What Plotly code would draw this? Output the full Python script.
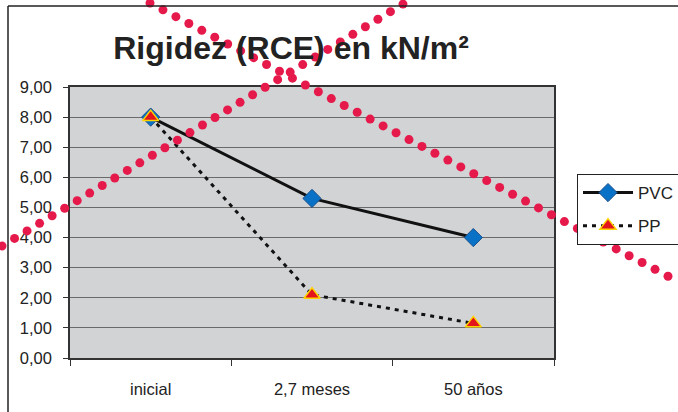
import numpy as np
import plotly.graph_objects as go

# ---- data ----
categories = ["inicial", "2,7 meses", "50 años"]
pvc_values = [8.0, 5.3, 4.0]
pp_values = [8.0, 2.1, 1.15]
series_names = ["PVC", "PP"]
title_text = "Rigidez (RCE) en kN/m²"

W, H = 678, 412
FONT = "Liberation Sans, Arial, Helvetica, sans-serif"

fig = go.Figure()

fig.add_trace(go.Scatter(
    x=categories, y=pvc_values, name=series_names[0], mode="lines+markers",
    line=dict(color="#111111", width=3),
    marker=dict(symbol="diamond", size=14, color="#0A72C6",
                line=dict(color="#1D4F8A", width=1)),
    legendgroup="a", xaxis="x", yaxis="y", cliponaxis=False,
))
fig.add_trace(go.Scatter(
    x=categories, y=pp_values, name=series_names[1], mode="lines+markers",
    line=dict(color="#111111", width=3, dash="4px,5px"),
    marker=dict(symbol="triangle-up", size=14, color="#E3141B",
                line=dict(color="#FFD400", width=1.5)),
    legendgroup="b", xaxis="x", yaxis="y", cliponaxis=False,
))

# ---- decorative red dotted cross (overlay in pixel space) ----
def dotted(start, step, n):
    k = np.arange(n)
    return start[0] + step[0] * k, start[1] + step[1] * k

ax_, ay_ = dotted((150, 3), (12.95, 6.83), 42)
bx_, by_ = dotted((2, 246), (12.53, -7.56), 34)
for xs, ys in ((ax_, ay_), (bx_, by_)):
    fig.add_trace(go.Scatter(
        x=xs, y=ys, mode="markers", showlegend=False, hoverinfo="skip",
        marker=dict(size=9, color="#E6194B"), xaxis="x2", yaxis="y2",
        cliponaxis=False,
    ))

xd = [70 / W, 554 / W]
yd = [1 - 358 / H, 1 - 87 / H]

fig.update_layout(
    width=W, height=H,
    margin=dict(l=0, r=0, t=0, b=0, autoexpand=False),
    paper_bgcolor="white", plot_bgcolor="rgba(0,0,0,0)",
    separators=",.",
    font=dict(family=FONT, color="#222222", size=16),
    title=dict(text=title_text, x=291 / W, xanchor="center",
               y=1 - 48 / H, yanchor="middle",
               font=dict(family=FONT, size=32, color="#222222", weight="bold")),
    xaxis=dict(domain=xd, type="category", tickson="boundaries",
               ticks="outside", ticklen=6, tickcolor="#333333",
               showline=True, linecolor="#333333", linewidth=1.5, mirror=True,
               showgrid=False, ticklabelstandoff=15,
               tickfont=dict(size=16.5, color="#222222"), anchor="y",
               range=[-0.5, 2.5]),
    yaxis=dict(domain=yd, range=[0, 9], dtick=1, tickformat=".2f",
               ticks="outside", ticklen=5, tickcolor="#333333",
               showline=True, linecolor="#333333", linewidth=1.5, mirror=True,
               showgrid=True, gridcolor="#6A6A6A", gridwidth=1.2,
               zeroline=False, ticklabelstandoff=8,
               tickfont=dict(size=16.5, color="#222222"), anchor="x"),
    xaxis2=dict(domain=[0, 1], range=[0, W], visible=False, anchor="y2",
                fixedrange=True),
    yaxis2=dict(domain=[0, 1], range=[H, 0], visible=False, anchor="x2",
                fixedrange=True),
    legend=dict(x=577 / W, y=1 - 174 / H, xanchor="left", yanchor="top",
                bgcolor="white", bordercolor="#222222", borderwidth=1,
                font=dict(size=17, color="#222222"), tracegroupgap=8,
                entrywidth=75, itemwidth=50),
    showlegend=True,
    shapes=[
        dict(type="rect", xref="x domain", yref="y domain", x0=0, x1=1,
             y0=0, y1=1, fillcolor="#D2D3D5", line=dict(width=0),
             layer="below"),
        dict(type="line", xref="paper", yref="paper", x0=8 / W, x1=1,
             y0=1 - 6 / H, y1=1 - 6 / H, line=dict(color="#222222", width=1.5)),
        dict(type="line", xref="paper", yref="paper", x0=8 / W, x1=8 / W,
             y0=0, y1=1 - 6 / H, line=dict(color="#222222", width=1.5)),
    ],
)

fig.write_html(
    "out.html",
    config={"displayModeBar": False},
    post_script="document.body.style.margin='0';document.body.style.overflow='hidden';",
)
